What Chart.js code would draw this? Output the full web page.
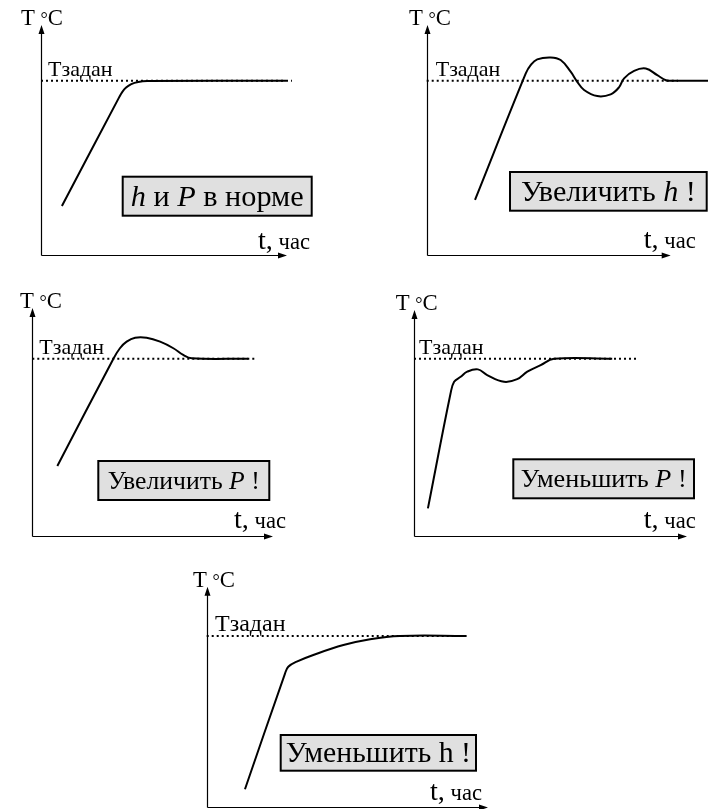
<!DOCTYPE html>
<html>
<head>
<meta charset="utf-8">
<script src="https://cdn.jsdelivr.net/npm/chart.js@4.4.1/dist/chart.umd.min.js"></script>
<style>
  body { margin: 0; background: #fff; width: 708px; height: 809px; position: relative; overflow: hidden; }
  canvas { position: absolute; }
</style>
</head>
<body>
<canvas id="c1"></canvas>
<canvas id="c2"></canvas>
<canvas id="c3"></canvas>
<canvas id="c4"></canvas>
<canvas id="c5"></canvas>
<script>
// temperature in % of Tзадан, time in relative units (100 = end of t axis)
const T_SET = 100;

const tNorm = [8.5, 31.8, 33.0, 34.6, 36.7, 39.5, 43.2, 99.6];
const TNorm = [28.1, 90.6, 93.5, 96.1, 98.1, 99.3, 99.8, 100];

const tIncH = [19.8, 40.6, 42.6, 45.3, 50.8, 54.9, 59.0, 61.7, 64.5, 69.9, 75.4, 78.8, 80.9, 85.0, 89.8, 94.5, 98.0, 99.8, 115.3];
const TIncH = [31.6, 104.2, 109.0, 112.3, 113.4, 111.9, 105.2, 99.4, 94.7, 91.2, 92.2, 96.2, 101.4, 105.7, 107.0, 103.2, 100.3, 100, 100];

const tIncP = [10.4, 33.7, 36.4, 39.2, 42.7, 47.5, 53.1, 58.6, 62.7, 66.2, 89.7];
const TIncP = [39.5, 100, 105.9, 109.6, 111.8, 111.8, 109.6, 105.9, 102.1, 100.2, 100];

const tDecP = [5.1, 13.4, 14.7, 17.1, 19.5, 23.4, 26.8, 33.0, 37.8, 41.5, 46.4, 51.3, 72.6];
const TDecP = [15.6, 80.5, 87.0, 89.8, 92.7, 94.0, 90.8, 87.0, 88.5, 92.7, 96.4, 100, 100];

const tDecH = [13.6, 27.8, 29.0, 32.0, 37.9, 48.6, 58.1, 68.7, 92.4];
const TDecH = [10.4, 77.8, 82.0, 85.0, 88.9, 94.7, 98.1, 100, 100];

// where the dotted Tзадан line stops
const setEnd = [102, 103, 92.5, 81.6, 91.1];

// advice in the boxes: [text, italic]
const adv1 = [['h', true], [' и ', false], ['P', true], [' в норме', false]];
const adv2 = [['Увеличить ', false], ['h', true], [' !', false]];
const adv3 = [['Увеличить ', false], ['P', true], [' !', false]];
const adv4 = [['Уменьшить ', false], ['P', true], [' !', false]];
const adv5 = [['Уменьшить h !', false]];

const FONT = '"Liberation Serif", "Times New Roman", serif';

const panels = [
  { id: 'c1', pos: [0, 0, 354, 280], pad: { left: 41, top: 25, right: 67, bottom: 25 }, yMax: 132,
    t: tNorm, T: TNorm, end: setEnd[0], adv: adv1, setSize: 22,
    tc: 21, setX: 48, tt: [310, 249], box: [122.7, 176.7, 189, 39, 173] },
  { id: 'c2', pos: [354, 0, 354, 280], pad: { left: 72.7, top: 25, right: 37.3, bottom: 25 }, yMax: 132,
    t: tIncH, T: TIncH, end: setEnd[1], adv: adv2, setSize: 22,
    tc: 55, setX: 81.7, tt: [341.7, 248], box: [156, 172, 196.7, 38.7, 175] },
  { id: 'c3', pos: [0, 280, 354, 270], pad: { left: 32.3, top: 28, right: 81, bottom: 14 }, yMax: 128.6,
    t: tIncP, T: TIncP, end: setEnd[2], adv: adv3, setSize: 22,
    tc: 20, setX: 39.3, tt: [286, 248], box: [98.3, 181, 171, 39, 152] },
  { id: 'c4', pos: [354, 280, 354, 270], pad: { left: 60, top: 30, right: 21, bottom: 14 }, yMax: 127.5,
    t: tDecP, T: TDecP, end: setEnd[3], adv: adv4, setSize: 22,
    tc: 41.7, setX: 65, tt: [341.7, 248], box: [159.3, 179.3, 180.7, 39, 166] },
  { id: 'c5', pos: [170, 550, 338, 259], pad: { left: 36.7, top: 36.7, right: 20, bottom: 2 }, yMax: 128.8,
    t: tDecH, T: TDecH, end: setEnd[4], adv: adv5, setSize: 24,
    tc: 23, setX: 45, tt: [312, 250], box: [110.7, 185, 195.3, 35.7, 185] }
];

function fontOf(size, italic) {
  return (italic ? 'italic ' : '') + size.toFixed(2) + 'px ' + FONT;
}

// parts: [text, italic, relSize, dy]
function partsWidth(ctx, parts, size) {
  let w = 0;
  parts.forEach(p => { ctx.font = fontOf(size * (p[2] || 1), p[1]); w += ctx.measureText(p[0]).width; });
  return w;
}

function drawParts(ctx, parts, x, y, size, align) {
  const w = partsWidth(ctx, parts, size);
  if (align === 'center') x -= w / 2;
  if (align === 'right') x -= w;
  ctx.textAlign = 'left';
  ctx.textBaseline = 'alphabetic';
  parts.forEach(p => {
    ctx.font = fontOf(size * (p[2] || 1), p[1]);
    ctx.fillText(p[0], x, y + (p[3] || 0) * size);
    x += ctx.measureText(p[0]).width;
  });
}

// font size that makes the parts as wide as w
function fitSize(ctx, parts, w) {
  return 100 * w / partsWidth(ctx, parts, 100);
}

function sketchPlugin(p) {
  return {
    id: 'sketch',
    afterDraw(chart) {
      const ctx = chart.ctx;
      const a = chart.chartArea;
      const ys = chart.scales.y;
      const x0 = Math.round(a.left) + 0.5;
      const y0 = Math.round(a.bottom) + 0.5;
      ctx.save();
      ctx.strokeStyle = '#000';
      ctx.fillStyle = '#000';
      ctx.lineWidth = 1.2;
      // axes with arrows
      ctx.beginPath();
      ctx.moveTo(x0, y0);
      ctx.lineTo(x0, a.top + 4);
      ctx.moveTo(x0, y0);
      ctx.lineTo(a.right - 4, y0);
      ctx.stroke();
      ctx.beginPath();
      ctx.moveTo(x0, a.top);
      ctx.lineTo(x0 - 3, a.top + 9);
      ctx.lineTo(x0 + 3, a.top + 9);
      ctx.closePath();
      ctx.moveTo(a.right, y0);
      ctx.lineTo(a.right - 9, y0 - 3);
      ctx.lineTo(a.right - 9, y0 + 3);
      ctx.closePath();
      ctx.fill();

      // axis names
      const tc = [['Т', false], [' ', false], ['°', false, 0.8], ['C', false]];
      drawParts(ctx, tc, p.tc, a.top, fitSize(ctx, tc, 42), 'left');
      drawParts(ctx, [['Тзадан', false]], p.setX, ys.getPixelForValue(T_SET) - 5, p.setSize, 'left');
      const tt = [['t,', false], [' час', false, 0.8]];
      drawParts(ctx, tt, p.tt[0], p.tt[1], fitSize(ctx, tt, 52), 'right');

      // advice box
      const b = p.box;
      ctx.fillStyle = '#e0e0e0';
      ctx.fillRect(b[0], b[1], b[2], b[3]);
      ctx.lineWidth = 2;
      ctx.strokeRect(b[0], b[1], b[2], b[3]);
      ctx.fillStyle = '#000';
      const size = fitSize(ctx, p.adv, b[4]);
      drawParts(ctx, p.adv, b[0] + b[2] / 2, b[1] + b[3] / 2 + size * 0.32, size, 'center');
      ctx.restore();
    }
  };
}

panels.forEach(p => {
  const cv = document.getElementById(p.id);
  cv.width = p.pos[2];
  cv.height = p.pos[3];
  cv.style.left = p.pos[0] + 'px';
  cv.style.top = p.pos[1] + 'px';
  cv.style.width = p.pos[2] + 'px';
  cv.style.height = p.pos[3] + 'px';

  new Chart(cv, {
    type: 'line',
    data: {
      datasets: [
        {
          data: p.t.map((t, k) => ({ x: t, y: p.T[k] })),
          borderColor: '#000',
          borderWidth: 2,
          pointRadius: 0,
          tension: 0.4,
          fill: false,
          clip: false
        },
        {
          data: [{ x: 0, y: T_SET }, { x: p.end, y: T_SET }],
          borderColor: '#000',
          borderWidth: 2,
          borderDash: [2, 3],
          pointRadius: 0,
          fill: false,
          clip: false
        }
      ]
    },
    options: {
      responsive: false,
      animation: false,
      layout: { padding: p.pad },
      plugins: { legend: { display: false }, tooltip: { enabled: false } },
      scales: {
        x: { type: 'linear', display: false, min: 0, max: 100 },
        y: { type: 'linear', display: false, min: 0, max: p.yMax }
      }
    },
    plugins: [sketchPlugin(p)]
  });
});
</script>
</body>
</html>
